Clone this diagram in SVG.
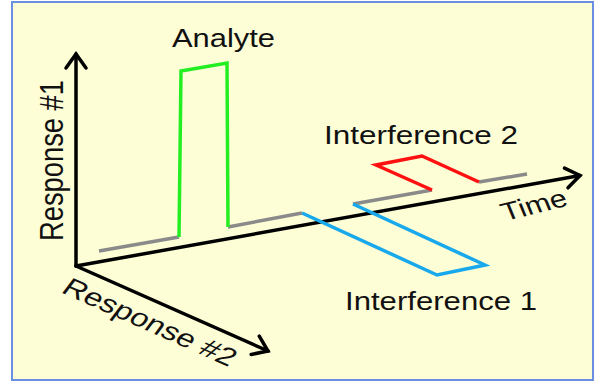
<svg xmlns="http://www.w3.org/2000/svg" width="596" height="382" viewBox="0 0 596 382">
<defs>
<style>
.axis{fill:none;stroke:#000;stroke-width:3.5;stroke-linecap:round;stroke-linejoin:round}
.trace{fill:none;stroke-width:3.5;stroke-linejoin:miter;stroke-linecap:butt}
.lbl{font-family:"Liberation Sans",Arial,sans-serif;font-size:25px;fill:#111}
</style>
<marker id="arr" markerUnits="userSpaceOnUse" markerWidth="30" markerHeight="30" viewBox="-20 -15 30 30" refX="0" refY="0" orient="auto">
<path d="M-14,-10 L0,0 L-14,10" fill="none" stroke="#000" stroke-width="3.5" stroke-linecap="round" stroke-linejoin="miter"/>
</marker>
</defs>
<rect x="12" y="2" width="581" height="378" fill="#fdfdd6" stroke="#6a8fe0" stroke-width="2"/>
<g id="connectors">
<line class="axis" x1="76" y1="266" x2="76" y2="54" marker-end="url(#arr)"/>
<line class="axis" x1="76" y1="266" x2="268" y2="351" marker-end="url(#arr)"/>
<line class="axis" x1="76" y1="266" x2="580" y2="175.5" marker-end="url(#arr)"/>
</g>
<g id="baseline">
<polyline class="trace" stroke="#8a8a8a" points="99,251 179,237"/>
<polyline class="trace" stroke="#8a8a8a" points="228,227 302,213"/>
<polyline class="trace" stroke="#8a8a8a" points="353,204 432,190"/>
<polyline class="trace" stroke="#8a8a8a" points="479,182 527,174"/>
</g>
<g id="analyte">
<polyline class="trace" stroke="#22ee22" points="179,237 181,71 227,63 228,227"/>
<text class="lbl" x="172" y="47" textLength="103" lengthAdjust="spacingAndGlyphs">Analyte</text>
</g>
<g id="interference1">
<polyline class="trace" stroke="#18a8ec" points="302,213 437,275 485,265 353,204"/>
<text class="lbl" x="345" y="310" textLength="192" lengthAdjust="spacingAndGlyphs">Interference 1</text>
</g>
<g id="interference2">
<polyline class="trace" stroke="#ff1010" points="432,190 376,165 422,156 479,182"/>
<text class="lbl" x="324" y="144" textLength="194" lengthAdjust="spacingAndGlyphs">Interference 2</text>
</g>
<g id="axis-labels">
<text class="lbl" transform="translate(63,241) scale(1.3,1) rotate(-90)" font-size="26" textLength="161" lengthAdjust="spacingAndGlyphs">Response #1</text>
<text class="lbl" transform="translate(60,292) scale(1.3,1) rotate(30)" textLength="150" lengthAdjust="spacingAndGlyphs">Response #2</text>
<text class="lbl" transform="translate(505,221) scale(1.3,1) rotate(-17.5)" font-size="24" textLength="52" lengthAdjust="spacingAndGlyphs">Time</text>
</g>
</svg>
